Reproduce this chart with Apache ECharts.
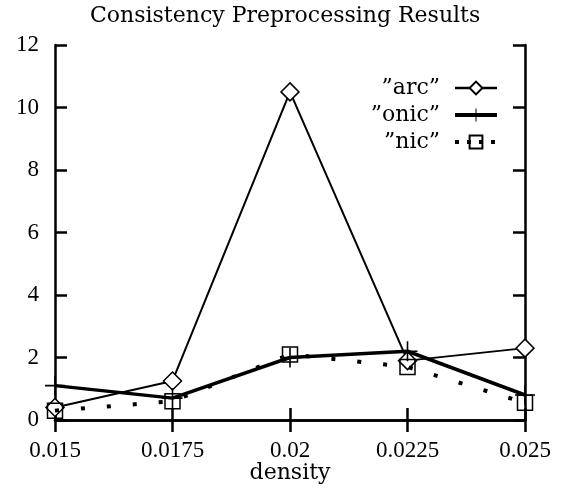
<!DOCTYPE html>
<html>
<head>
<meta charset="utf-8">
<script src="https://cdn.jsdelivr.net/npm/echarts@6/dist/echarts.min.js"></script>
<style>
  html, body { margin: 0; padding: 0; background: #fff; }
  #main { width: 564px; height: 489px; }
</style>
</head>
<body>
<div id="main"></div>
<script>
// valeurs
var densities  = [0.015, 0.0175, 0.02, 0.0225, 0.025];
var arcValues  = [0.4, 1.25, 10.5, 1.9, 2.3];
var onicValues = [1.1, 0.7, 2.0, 2.2, 0.8];
var nicValues  = [0.3, 0.6, 2.1, 1.7, 0.55];
var seriesNames = ['\u201Darc\u201D', '\u201Donic\u201D', '\u201Dnic\u201D'];

var numFont = 'Liberation Serif';
var textFont = 'DejaVu Serif';
var plus = 'path://M4.6,0H5.4V4.6H10V5.4H5.4V10H4.6V5.4H0V4.6H4.6Z';
var nicDash = [4, 22];

function pairs(ys) {
  return densities.map(function (x, i) { return [x, ys[i]]; });
}

var chart = echarts.init(document.getElementById('main'));

var axisLine = { show: true, lineStyle: { color: '#000', width: 2.5 } };
var tick = { show: true, inside: true, length: 12, lineStyle: { color: '#000', width: 2.5 } };

var option = {
  animation: false,
  title: {
    text: 'Consistency Preprocessing Results',
    left: 90,
    top: 0,
    padding: [5, 0, 5, 0],
    textStyle: { fontFamily: textFont, fontSize: 22, fontWeight: 'normal', color: '#000' }
  },
  legend: {
    orient: 'vertical',
    right: 60,
    top: 72,
    align: 'right',
    itemWidth: 42,
    itemHeight: 16,
    itemGap: 5,
    textStyle: { fontFamily: textFont, fontSize: 22, color: '#000', padding: [0, 10, 0, 0] },
    data: [
      { name: seriesNames[0], lineStyle: { width: 2.5 } },
      { name: seriesNames[1], lineStyle: { width: 4 } },
      { name: seriesNames[2], lineStyle: { width: 4, type: [4, 8] } }
    ]
  },
  grid: { left: 55, right: 39, top: 45, bottom: 69, outerBoundsMode: 'none' },
  xAxis: [{
    type: 'value',
    min: 0.015, max: 0.025, interval: 0.0025,
    name: 'density',
    nameLocation: 'middle',
    nameGap: 42,
    nameMoveOverlap: false,
    nameTextStyle: { fontFamily: textFont, fontSize: 22, color: '#000' },
    axisLine: axisLine, axisTick: tick, splitLine: { show: false },
    axisLabel: {
      fontFamily: numFont, fontSize: 23, color: '#000', margin: 19,
      formatter: function (v) { return String(parseFloat(v.toFixed(5))); }
    }
  }, {
    type: 'value', position: 'top',
    min: 0.015, max: 0.025, interval: 0.0025,
    axisLine: axisLine, axisTick: tick, splitLine: { show: false },
    axisLabel: { show: false }
  }],
  yAxis: [{
    type: 'value',
    min: 0, max: 12, interval: 2,
    axisLine: axisLine, axisTick: tick, splitLine: { show: false },
    axisLabel: { fontFamily: numFont, fontSize: 23, color: '#000', margin: 16 }
  }, {
    type: 'value', position: 'right',
    min: 0, max: 12, interval: 2,
    axisLine: axisLine, axisTick: tick, splitLine: { show: false },
    axisLabel: { show: false }
  }],
  series: [{
    name: seriesNames[0],
    type: 'line',
    data: pairs(arcValues),
    symbol: 'diamond',
    symbolSize: 18,
    lineStyle: { color: '#000', width: 2 },
    itemStyle: { color: '#fff', borderColor: '#000', borderWidth: 1.5 },
    z: 3
  }, {
    name: seriesNames[1],
    type: 'line',
    data: pairs(onicValues),
    symbol: plus,
    symbolSize: 20,
    lineStyle: { color: '#000', width: 3.5 },
    itemStyle: { color: '#000', borderWidth: 0 },
    z: 4
  }, {
    name: seriesNames[2],
    type: 'line',
    data: pairs(nicValues),
    symbol: 'rect',
    symbolSize: 15,
    lineStyle: { color: '#000', width: 4, type: nicDash, cap: 'butt' },
    itemStyle: { color: 'rgba(255,255,255,0)', borderColor: '#000', borderWidth: 1.5 },
    z: 5
  }]
};

chart.setOption(option);
</script>
</body>
</html>
